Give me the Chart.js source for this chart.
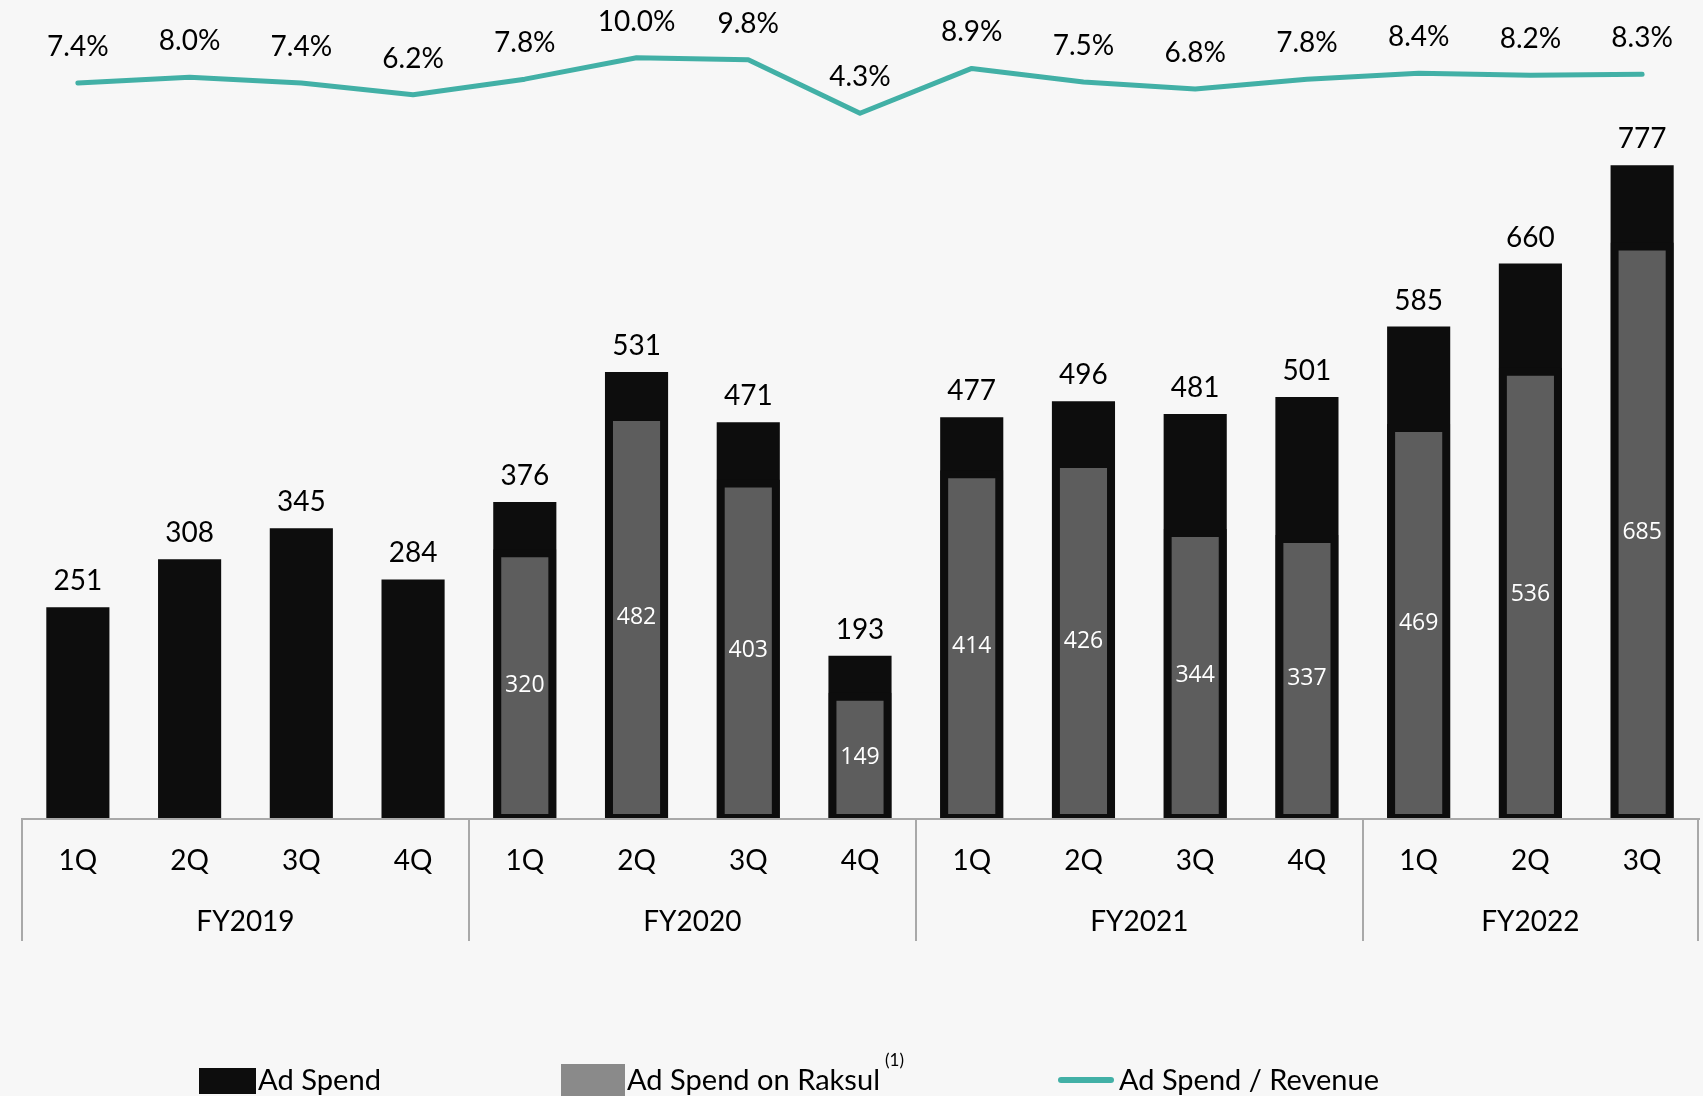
<!doctype html>
<html>
    <head>
        <title>Ad Spend</title>
        <style>
            body {
                margin: 0;
                background: #f7f7f7;
            }
            #chart {
                display: block;
                width: 1703px;
                height: 1096px;
            }
        </style>
    </head>
    <body>
        <canvas id="chart" width="1703" height="1096"></canvas>

        <script src="https://cdn.jsdelivr.net/npm/chart.js"></script>

        <script>
        // quarterly figures, FY2019 1Q .. FY2022 3Q
        const quarters = ['1Q', '2Q', '3Q', '4Q', '1Q', '2Q', '3Q', '4Q', '1Q', '2Q', '3Q', '4Q', '1Q', '2Q', '3Q'];
        const fiscalYears = ['FY2019', 'FY2020', 'FY2021', 'FY2022'];
        const yearStarts = [0, 4, 8, 12, 15]; // index where each fiscal year begins (last = end)

        const adSpend = [251, 308, 345, 284, 376, 531, 471, 193, 477, 496, 481, 501, 585, 660, 777];
        const adSpendRaksul = [null, null, null, null, 320, 482, 403, 149, 414, 426, 344, 337, 469, 536, 685];
        const adSpendRatio = [7.4, 8.0, 7.4, 6.2, 7.8, 10.0, 9.8, 4.3, 8.9, 7.5, 6.8, 7.8, 8.4, 8.2, 8.3];

        const BLACK = '#0d0d0d';
        const GREY = '#5d5d5d';
        const LEGEND_GREY = '#8a8a8a';
        const TEAL = '#42b0a6';
        const AXIS = '#a9a9a9';

        const labelFont = '28px Lato, Calibri, sans-serif';
        const innerFont = '23px "Open Sans", sans-serif';
        const legendFont = '28px Lato, Calibri, sans-serif';

        // draw text squeezed/stretched to a given width
        function fitText(ctx, text, x, y, width) {
            const w = ctx.measureText(text).width;
            ctx.save();
            ctx.translate(x, y);
            ctx.scale(width / w, 1);
            ctx.fillText(text, 0, 0);
            ctx.restore();
        }

        // labels, category axis and legend are painted here
        const decorations = {
            id: 'decorations',
            afterDatasetsDraw(chart) {
                const ctx = chart.ctx;
                const area = chart.chartArea;
                const x = chart.scales.x;
                const step = (x.getPixelForValue(1) - x.getPixelForValue(0));

                ctx.save();

                // category axis with fiscal year boxes
                ctx.strokeStyle = AXIS;
                ctx.lineWidth = 2;
                ctx.beginPath();
                ctx.moveTo(area.left, area.bottom + 1);
                ctx.lineTo(area.right + 2, area.bottom + 1);
                yearStarts.forEach(function (i) {
                    const px = Math.round(x.getPixelForValue(i) - step / 2);
                    ctx.moveTo(px, area.bottom);
                    ctx.lineTo(px, area.bottom + 123);
                });
                ctx.stroke();

                ctx.fillStyle = '#000';
                ctx.font = labelFont;
                ctx.textAlign = 'center';
                ctx.textBaseline = 'middle';
                quarters.forEach(function (q, i) {
                    ctx.fillText(q, x.getPixelForValue(i), area.bottom + 43);
                });
                fiscalYears.forEach(function (fy, g) {
                    const a = x.getPixelForValue(yearStarts[g]);
                    const b = x.getPixelForValue(yearStarts[g + 1] - 1);
                    ctx.fillText(fy, (a + b) / 2, area.bottom + 104);
                });

                // totals above the black bars
                chart.getDatasetMeta(0).data.forEach(function (bar, i) {
                    ctx.fillText(adSpend[i], bar.x, bar.y - 26);
                });

                // Raksul share inside the grey bars
                ctx.fillStyle = '#fff';
                ctx.font = innerFont;
                chart.getDatasetMeta(1).data.forEach(function (bar, i) {
                    if (adSpendRaksul[i] == null) return;
                    ctx.fillText(adSpendRaksul[i], bar.x, (bar.y + bar.base) / 2 + 2);
                });

                // ratio labels above the line
                ctx.fillStyle = '#000';
                ctx.font = labelFont;
                chart.getDatasetMeta(2).data.forEach(function (pt, i) {
                    ctx.fillText(adSpendRatio[i].toFixed(1) + '%', pt.x, pt.y - 36);
                });

                // legend
                const sets = chart.data.datasets;
                ctx.textAlign = 'left';
                ctx.textBaseline = 'alphabetic';
                ctx.font = legendFont;

                ctx.fillStyle = BLACK;
                ctx.fillRect(199, 1068, 57, 26);
                ctx.fillStyle = '#000';
                fitText(ctx, sets[0].label, 258, 1090, 123);

                ctx.fillStyle = LEGEND_GREY;
                ctx.fillRect(561, 1064, 64, 32);
                ctx.fillStyle = '#000';
                fitText(ctx, sets[1].label, 627, 1090, 253);
                ctx.font = '17px Lato, Calibri, sans-serif';
                ctx.fillText('(1)', 885, 1066);

                ctx.strokeStyle = TEAL;
                ctx.lineWidth = 6;
                ctx.lineCap = 'round';
                ctx.beginPath();
                ctx.moveTo(1061, 1080);
                ctx.lineTo(1111, 1080);
                ctx.stroke();
                ctx.font = legendFont;
                fitText(ctx, sets[2].label, 1119, 1090, 260);

                ctx.restore();
            }
        };

        var ctx = document.getElementById('chart').getContext('2d');
        var chart = new Chart(ctx, {
            type: 'bar',
            data: {
                labels: quarters,
                datasets: [{
                    label: 'Ad Spend',
                    data: adSpend,
                    backgroundColor: BLACK,
                    order: 3
                }, {
                    label: 'Ad Spend on Raksul',
                    data: adSpendRaksul,
                    backgroundColor: GREY,
                    borderColor: BLACK,
                    borderWidth: { top: 8, left: 8, right: 8, bottom: 4 },
                    borderSkipped: false,
                    order: 2
                }, {
                    type: 'line',
                    label: 'Ad Spend / Revenue',
                    data: adSpendRatio,
                    yAxisID: 'y1',
                    borderColor: TEAL,
                    borderWidth: 5,
                    borderCapStyle: 'round',
                    borderJoinStyle: 'round',
                    pointRadius: 0,
                    tension: 0,
                    order: 1
                }]
            },
            options: {
                responsive: false,
                animation: false,
                devicePixelRatio: 1,
                layout: {
                    padding: { left: 22, right: 5, top: 0, bottom: 278 }
                },
                datasets: {
                    bar: {
                        grouped: false,
                        barPercentage: 0.565,
                        categoryPercentage: 1
                    }
                },
                plugins: {
                    legend: { display: false },
                    tooltip: { enabled: false }
                },
                scales: {
                    x: { display: false },
                    y: { display: false, min: 0, max: 973.7 },
                    y1: { display: false, min: -67.98, max: 15.92 }
                }
            },
            plugins: [decorations]
        });
        </script>
    </body>
</html>
